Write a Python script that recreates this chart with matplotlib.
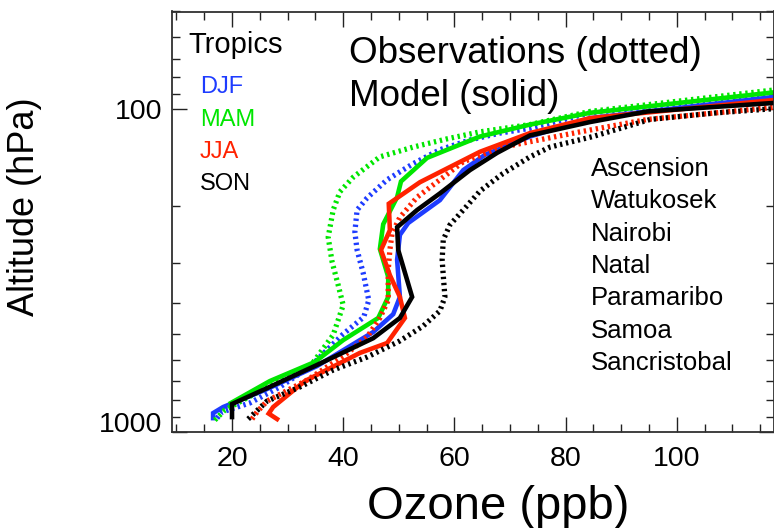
import matplotlib
matplotlib.use("Agg")
import matplotlib.pyplot as plt
from matplotlib.ticker import MultipleLocator, LogLocator, NullFormatter

plt.rcParams['font.family'] = ['Liberation Sans', 'DejaVu Sans']

# ozone (ppb) against pressure (hPa), tropical stations, seasonal means
# model profiles (solid)
djf_mod_o3 = [16.6, 16.6, 18.4, 25.9, 35.3, 45.4, 49.0, 50.2, 49.7, 50.2, 51.7, 57.4, 61.6, 65.5, 73.6, 84.4, 117.5, 140]
djf_mod_p = [909, 877, 840, 744, 627, 492, 433, 383, 294, 246, 226, 192, 155, 139, 122, 107, 92, 82]
mam_mod_o3 = [19.8, 26.8, 34.9, 40.0, 46.3, 48.1, 48.1, 46.6, 47.2, 49.7, 50.4, 55.1, 64.6, 73.6, 84.4, 117.5, 140]
mam_mod_p = [816, 698, 609, 521, 445, 383, 332, 272, 228, 188, 168, 142, 122, 112, 103, 89, 79]
jja_mod_o3 = [28.1, 26.6, 27.4, 33.1, 43.0, 47.9, 51.1, 50.2, 48.4, 46.8, 48.4, 48.2, 53.8, 64.6, 73.6, 84.4, 117.5, 140]
jja_mod_p = [915, 880, 840, 698, 571, 532, 445, 383, 328, 274, 238, 197, 169, 136, 119, 107, 94, 85]
son_mod_o3 = [20.0, 20.0, 26.3, 35.3, 45.4, 50.2, 52.4, 49.9, 49.7, 53.3, 57.4, 62.8, 67.7, 73.6, 84.4, 94.7, 117.5, 140]
son_mod_p = [902, 822, 734, 622, 514, 445, 383, 274, 233, 206, 183, 155, 137, 121, 110, 102, 96, 87]

# ozonesonde profiles (dotted)
djf_obs_o3 = [17.3, 18.2, 23.2, 28.6, 34.0, 40.0, 43.7, 44.6, 43.6, 42.5, 42.1, 42.5, 44.3, 47.9, 52.6, 57.4, 62.8, 68.2, 73.6, 84.4, 117.5, 140]
djf_obs_p = [909, 870, 816, 728, 631, 499, 442, 392, 323, 274, 241, 206, 189, 166, 148, 134, 125, 119, 115, 103, 91, 81]
mam_obs_o3 = [16.9, 18.7, 26.3, 34.0, 38.2, 40.0, 39.1, 38.0, 37.3, 38.2, 39.4, 41.8, 46.6, 52.6, 58.7, 64.6, 73.6, 84.4, 117.5, 140]
mam_obs_p = [922, 858, 728, 631, 502, 406, 352, 298, 250, 206, 181, 163, 141, 131.5, 124, 118, 112, 102, 87.5, 77]
jja_obs_o3 = [23.6, 24.5, 26.3, 33.5, 40.3, 44.3, 46.6, 48.1, 48.1, 48.4, 48.8, 50.2, 53.3, 57.4, 61.6, 68.7, 82.6, 94.7, 117.5, 140]
jja_obs_p = [915, 870, 805, 693, 580, 510, 445, 392, 316, 274, 243, 217, 188, 166, 146, 131.5, 118, 108, 99, 90]
son_obs_o3 = [22.9, 26.3, 32.2, 38.2, 44.3, 50.2, 54.4, 57.4, 58.3, 58.0, 57.8, 58.0, 59.2, 61.6, 64.6, 68.7, 73.6, 77.2, 84.9, 95.2, 107.2, 117.5, 140]
son_obs_p = [915, 805, 728, 645, 588, 524, 471, 423, 383, 328, 294, 255, 229, 206, 180, 159, 141, 131.5, 122, 108, 103, 100, 92]

seasons = ['DJF', 'MAM', 'JJA', 'SON']
season_colors = ['#1e3cff', '#00e600', '#ff2200', '#000000']
stations = ['Ascension', 'Watukosek', 'Nairobi', 'Natal', 'Paramaribo', 'Samoa', 'Sancristobal']

obs = [(djf_obs_o3, djf_obs_p), (mam_obs_o3, mam_obs_p), (jja_obs_o3, jja_obs_p), (son_obs_o3, son_obs_p)]
mod = [(djf_mod_o3, djf_mod_p), (mam_mod_o3, mam_mod_p), (jja_mod_o3, jja_mod_p), (son_mod_o3, son_mod_p)]

fig = plt.figure(figsize=(7.74, 5.28), dpi=100)
ax = fig.add_axes([171.7 / 774, 1 - 431.5 / 528, (773.5 - 171.7) / 774, 420 / 528])

for (ox, op), (mx, mp), c in zip(obs, mod, season_colors):
    ax.plot(ox, op, color=c, lw=3.8, dashes=(0.45, 0.7), dash_capstyle='butt')
    ax.plot(mx, mp, color=c, lw=3.3, solid_joinstyle='miter')

ax.set_yscale('log')
ax.set_ylim(1000, 50)
ax.set_xlim(9.15, 117.41)

ax.set_yticks([100, 1000], labels=['100', '1000'])
ax.yaxis.set_minor_locator(LogLocator(base=10, subs=range(2, 10)))
ax.yaxis.set_minor_formatter(NullFormatter())
ax.set_xticks([20, 40, 60, 80, 100])
ax.xaxis.set_minor_locator(MultipleLocator(5))

ax.tick_params(which='both', direction='in', top=True, right=True,
               width=1.0, color='#222222', labelsize=20.5)
ax.tick_params(which='major', length=10.8)
ax.tick_params(which='minor', length=5.8)
ax.tick_params(axis='x', pad=10.5)
ax.tick_params(axis='y', pad=7)
# bottom label sits above its tick
for lab in ax.get_yticklabels():
    if lab.get_text() == '1000':
        lab.set_va('baseline')
for s in ax.spines.values():
    s.set_linewidth(1.3)
    s.set_color('#303030')

fig.text(498.5 / 774, 1 - 519 / 528, 'Ozone (ppb)', fontsize=34, ha='center', va='baseline')
fig.text(25 / 774, 1 - 207 / 528, 'Altitude (hPa)', fontsize=26, rotation=90, ha='center', va='center')

# key texts in pixel positions of the figure
def ftext(px, py, s, **kw):
    fig.text(px / 774, 1 - py / 528, s, va='baseline', **kw)

ftext(349, 63, 'Observations (dotted)', fontsize=26.5)
ftext(349, 106.5, 'Model (solid)', fontsize=26.5)
ftext(188.5, 53.3, 'Tropics', fontsize=21)
for i, (name, c) in enumerate(zip(seasons, season_colors)):
    ftext(200, 93.3 + 32.3 * i, name, fontsize=17, color=c)
for i, name in enumerate(stations):
    ftext(591, 176 + 32.3 * i, name, fontsize=18.5)

fig.savefig('out.png', dpi=100)
